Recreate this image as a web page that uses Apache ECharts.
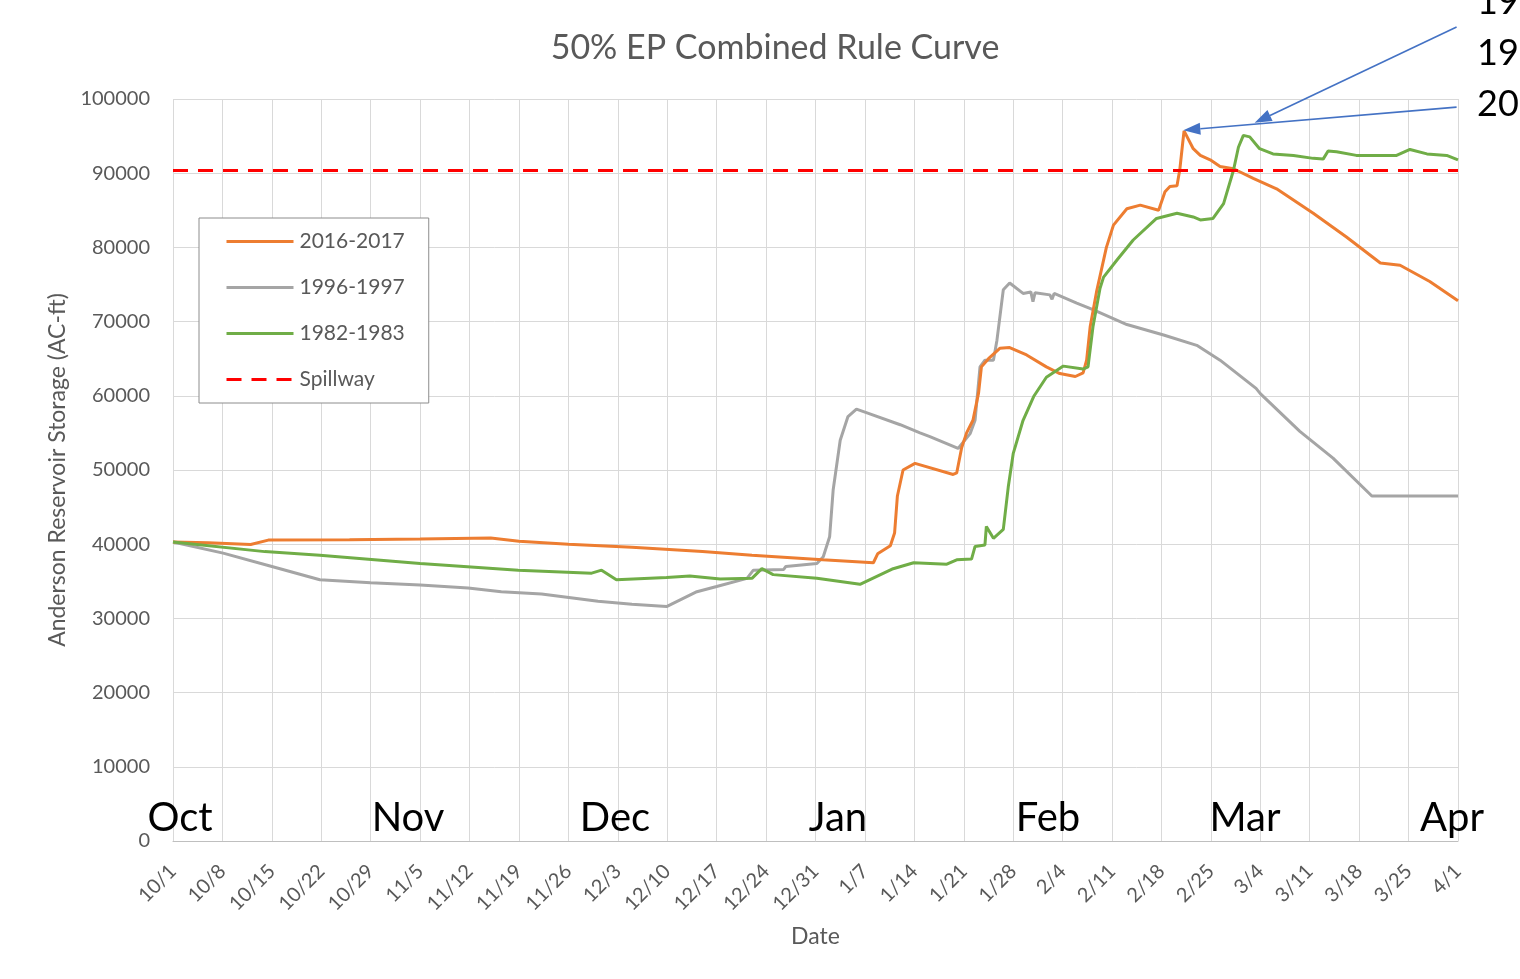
<!DOCTYPE html>
<html><head><meta charset="utf-8">
<script src="https://cdn.jsdelivr.net/npm/echarts@6/dist/echarts.min.js"></script>
<style>html,body{margin:0;padding:0;background:#fff}#c{width:1520px;height:979px}</style>
</head><body><div id="c"></div>
<script>
// x values are days since 10/1
const tickLabels = ['10/1','10/8','10/15','10/22','10/29','11/5','11/12','11/19','11/26','12/3','12/10','12/17','12/24','12/31','1/7','1/14','1/21','1/28','2/4','2/11','2/18','2/25','3/4','3/11','3/18','3/25','4/1'];
const monthNames = ['Oct','Nov','Dec','Jan','Feb','Mar','Apr'];
const sideText = ['19','19','20'];
const spillwayLevel = 90373;

const s2016 = [[0,40300],[5,40200],[11,39950],[13.5,40550],[25,40600],[35,40700],[45,40850],[49,40400],[56,40000],[65,39600],[75,39000],[82,38500],[92,37900],[99.2,37500],[99.8,38700],[101.6,39800],[102.2,41500],[102.6,46500],[103.4,50000],[105.1,50900],[110.5,49400],[111,49600],[111.7,53000],[112.4,55000],[113.3,56700],[114.1,60400],[114.5,63900],[115.5,65000],[117.1,66400],[118.5,66500],[120.9,65500],[123.7,63900],[125.6,63000],[127.8,62600],[128.9,63100],[129.4,64800],[129.9,69300],[130.8,74000],[132.2,80000],[133.2,83000],[135.1,85200],[137,85700],[139.6,85000],[140.5,87500],[141.2,88200],[142.2,88300],[142.6,90500],[143,94000],[143.2,95700],[144.5,93300],[145.5,92400],[146.9,91800],[148.3,90900],[150.2,90600],[153,89300],[156.3,87900],[161.5,84600],[166.2,81400],[171,77900],[173.8,77600],[178,75400],[182,72800]];

const s1996 = [[0,40300],[7.1,38800],[14,37000],[20.8,35200],[28,34800],[35,34500],[41.8,34100],[46.5,33600],[52.2,33300],[60.2,32300],[65,31900],[69.9,31600],[74.2,33600],[77,34300],[81.3,35400],[82.2,36500],[86.5,36600],[86.8,37000],[91.2,37400],[92.1,38300],[93,41000],[93.5,47300],[94.5,54000],[95.6,57200],[96.8,58200],[98.3,57700],[103,56100],[105.8,55000],[107.2,54500],[111.2,52900],[112.9,54900],[113.6,56700],[114.3,63900],[115,64800],[116.2,64800],[116.7,67500],[117.6,74300],[118.5,75200],[120.4,73800],[121.5,74000],[121.8,72700],[122.1,73900],[124.2,73600],[124.5,73000],[124.8,73800],[128,72500],[130.3,71600],[135.1,69600],[140.3,68200],[145,66800],[148.3,64800],[153.4,61000],[154,60300],[159.6,55200],[164.3,51600],[169.8,46500],[182,46500]];

const s1982 = [[0,40300],[13,39000],[20.8,38500],[35,37400],[48.9,36500],[59.3,36100],[60.7,36500],[62.8,35200],[69.9,35500],[73.2,35700],[77.5,35300],[82,35400],[83.4,36700],[85,35900],[91.2,35400],[97.3,34600],[102,36700],[104.9,37500],[109.6,37300],[111,37900],[113.1,38000],[113.6,39700],[115,39900],[115.2,42400],[116.2,40800],[117.6,42000],[118.3,47700],[119,52200],[120.4,56700],[121.9,59900],[123.7,62500],[126.1,64000],[128.9,63600],[129.6,63900],[130.3,69300],[131.3,74500],[131.8,76000],[133.7,78300],[136,81000],[139.3,83900],[142.2,84600],[144.5,84100],[145.5,83700],[147.3,83900],[148.8,85900],[150.2,90400],[150.9,93500],[151.6,95100],[152.5,94900],[153.9,93300],[155.8,92600],[158.7,92400],[161.5,92000],[162.9,91900],[163.6,93000],[164.8,92900],[167.6,92400],[173.3,92400],[175.2,93200],[177.6,92600],[180.4,92400],[182,91800]];

const spillway = [[0,spillwayLevel],[182,spillwayLevel]];

const FONT = 'Lato';
const TXT = '#595959';
const chart = echarts.init(document.getElementById('c'), null, {renderer:'canvas'});

chart.setOption({
  animation:false,
  backgroundColor:'#fff',
  title:{text:'50% EP Combined Rule Curve', left:770, top:26, textAlign:'center',
    textStyle:{fontFamily:FONT, fontSize:34, fontWeight:'normal', color:TXT}},
  grid:{left:173, right:62, top:99, bottom:138},
  legend:{orient:'vertical', left:199, top:218, itemWidth:67, itemHeight:14, itemGap:25,
    padding:[13,24,13,26], borderColor:'#8c8c8c', borderWidth:1, backgroundColor:'#fff',
    itemStyle:{color:'rgba(0,0,0,0)', borderWidth:0, opacity:0},
    lineStyle:{width:3},
    textStyle:{fontFamily:FONT, fontSize:21, color:TXT, padding:[0,0,0,1]},
    data:['2016-2017','1996-1997','1982-1983','Spillway']},
  xAxis:{type:'value', min:0, max:182, interval:7,
    name:'Date', nameLocation:'middle', nameGap:84,
    nameTextStyle:{fontFamily:FONT, fontSize:23, color:TXT},
    axisLine:{show:true, lineStyle:{color:'#bfbfbf', width:1}},
    axisTick:{show:false},
    splitLine:{show:true, lineStyle:{color:'#d9d9d9', width:1}},
    axisLabel:{rotate:45, margin:27, fontFamily:FONT, fontSize:20, color:TXT,
      formatter:function(v){ return tickLabels[Math.round(v/7)] || ''; }}},
  yAxis:{type:'value', min:0, max:100000, interval:10000,
    name:'Anderson Reservoir Storage (AC-ft)', nameLocation:'middle', nameGap:104,
    nameTextStyle:{fontFamily:FONT, fontSize:23, color:TXT},
    axisLine:{show:false}, axisTick:{show:false},
    splitLine:{show:true, lineStyle:{color:'#d9d9d9', width:1}},
    axisLabel:{margin:23, fontFamily:FONT, fontSize:20, color:TXT,
      formatter:function(v){ return String(v); }}},
  series:[
    {name:'2016-2017', type:'line', data:s2016, symbol:'none', lineStyle:{color:'#ED7D31', width:3}, itemStyle:{color:'#ED7D31'}, z:4},
    {name:'1996-1997', type:'line', data:s1996, symbol:'none', lineStyle:{color:'#A5A5A5', width:3}, itemStyle:{color:'#A5A5A5'}, z:3},
    {name:'1982-1983', type:'line', data:s1982, symbol:'none', lineStyle:{color:'#70AD47', width:3}, itemStyle:{color:'#70AD47'}, z:5},
    {name:'Spillway', type:'line', data:spillway, symbol:'none', lineStyle:{color:'#FF0000', width:3, type:[15,10]}, itemStyle:{color:'#FF0000'}, z:6}
  ]
});

// annotations
const monthCenters = [180,408,615,838,1048,1245,1452];
const g = [];
monthNames.forEach((m,i)=>{
  g.push({type:'text', z:100, style:{text:m, x:monthCenters[i], y:838, textAlign:'center', textVerticalAlign:'bottom', font:'40px '+FONT, fill:'#000'}});
});
sideText.forEach((t,i)=>{
  g.push({type:'text', z:100, style:{text:t, x:1477, y:2+i*51, textAlign:'left', textVerticalAlign:'middle', font:'36px '+FONT, fill:'#000'}});
});
function arrow(fromD, toD){
  const a = chart.convertToPixel({gridIndex:0}, fromD);
  const b = chart.convertToPixel({gridIndex:0}, toD);
  const dx=b[0]-a[0], dy=b[1]-a[1], L=Math.hypot(dx,dy), ux=dx/L, uy=dy/L, nx=-uy, ny=ux;
  const len=17, hw=6;
  const bx=b[0]-ux*len, by=b[1]-uy*len;
  g.push({type:'line', z:100, shape:{x1:a[0],y1:a[1],x2:bx,y2:by}, style:{stroke:'#4472C4', lineWidth:1.6}});
  g.push({type:'polygon', z:100, shape:{points:[[b[0],b[1]],[bx+nx*hw,by+ny*hw],[bx-nx*hw,by-ny*hw]]}, style:{fill:'#4472C4'}});
}
arrow([181.8,109700],[153.2,96800]);
arrow([181.8,98900],[143.1,95800]);
chart.setOption({graphic:g});
</script></body></html>
